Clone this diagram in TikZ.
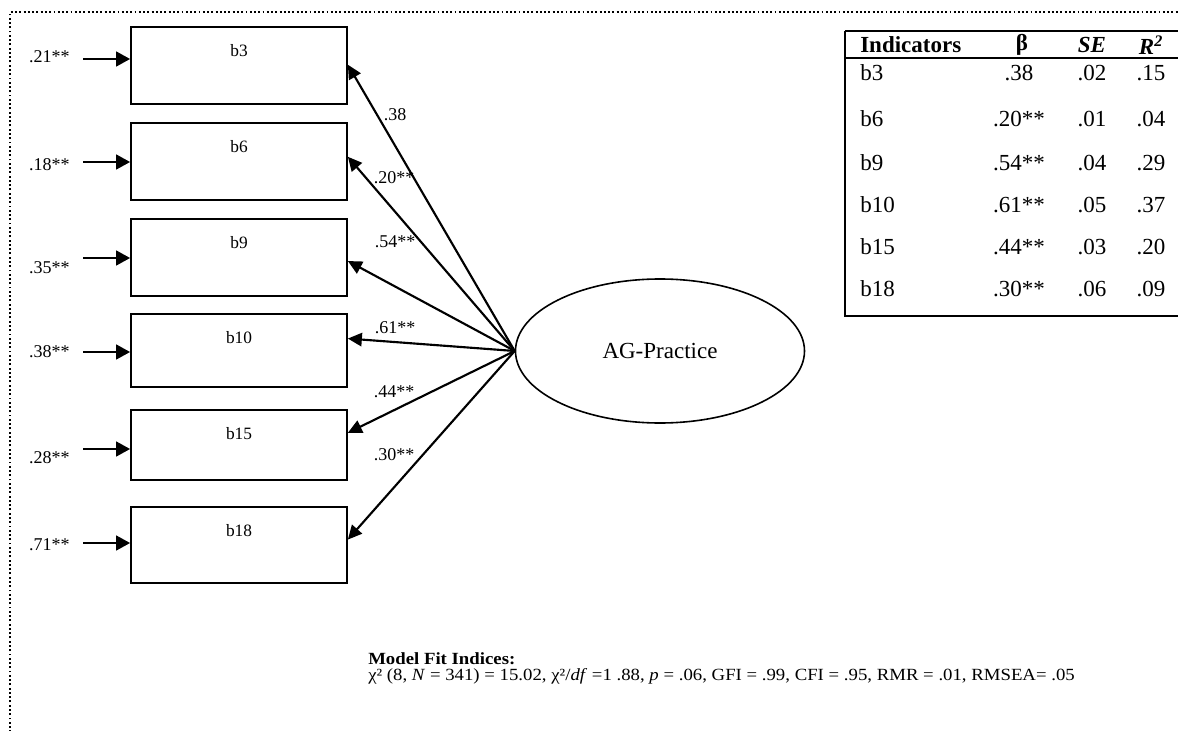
\documentclass[tikz,border=0pt]{standalone}
\usepackage{fontspec}
\setmainfont{Liberation Serif}
\newfontfamily\fitfont[FakeStretch=1.1]{Liberation Serif}
\usetikzlibrary{arrows.meta,shapes.geometric,calc}

\tikzset{
  obs/.style={draw, line width=1.3pt, minimum width=216*0.75pt, inner sep=0pt, minimum height=#1*0.75pt},
  obslab/.style={font=\fontsize{13}{15}\selectfont, inner sep=0pt},
  errlab/.style={font=\fontsize{13.5}{15}\selectfont, anchor=east, inner sep=0pt},
  coef/.style={font=\fontsize{13.5}{15}\selectfont, inner sep=0pt},
  errarrow/.style={line width=1.8pt, -{Triangle[length=10.5pt,width=11pt]}},
  load/.style={line width=1.6pt, -{Triangle[length=10.5pt,width=10pt]}},
  tabtxt/.style={font=\fontsize{17.25}{20}\selectfont, inner sep=0pt},
  rule/.style={line width=1.6pt},
  framedots/.style={line width=1.2pt, dash pattern=on 1.4pt off 1.8pt},
  fit/.style={font=\fitfont\fontsize{12.8}{14}\selectfont, anchor=west, inner sep=0pt},
}

\begin{document}
\begin{tikzpicture}[x=0.75pt,y=-0.75pt]
\useasboundingbox (0,0) rectangle (1178,731);
\clip (0,0) rectangle (1178,731);

% dotted outer frame
\draw[framedots] (10,745) -- (10,12) -- (1190,12);

% observed indicators
\node[obs=77] (b3)  at (239,65.5)  {};
\node[obs=77] (b6)  at (239,161.5) {};
\node[obs=77] (b9)  at (239,257.5) {};
\node[obs=73] (b10) at (239,350.5) {};
\node[obs=70] (b15) at (239,445)   {};
\node[obs=76] (b18) at (239,545)   {};
\foreach \b in {b3,b6,b9,b10,b15,b18}
  \node[obslab] (\b lab) at ($(\b.north)+(0,24)$) {\b};

% error terms
\node[errlab] (e3)  at (70,57)  {.21**};
\node[errlab] (e6)  at (70,165) {.18**};
\node[errlab] (e9)  at (70,268) {.35**};
\node[errlab] (e10) at (70,352) {.38**};
\node[errlab] (e15) at (70,458) {.28**};
\node[errlab] (e18) at (70,545) {.71**};
\coordinate (s3)  at (83,59);
\coordinate (s6)  at (83,162);
\coordinate (s9)  at (83,258);
\coordinate (s10) at (83,352);
\coordinate (s15) at (83,449);
\coordinate (s18) at (83,543);
\foreach \b in {3,6,9,10,15,18}
  \draw[errarrow] (s\b) -- (s\b -| b\b.west);

% latent factor
\node[draw, ellipse, line width=1.2pt, minimum width=289*0.75pt, minimum height=144*0.75pt,
      inner sep=0pt, font=\fontsize{17.25}{20}\selectfont] (lv) at (660,351) {AG-Practice};

% loadings
\draw[load] (lv.west) -- ($(b3.north east)!0.49!(b3.south east)$);
\draw[load] (lv.west) -- ($(b6.north east)!0.44!(b6.south east)$);
\draw[load] (lv.west) -- ($(b9.north east)!0.545!(b9.south east)$);
\draw[load] (lv.west) -- ($(b10.north east)!0.34!(b10.south east)$);
\draw[load] (lv.west) -- ($(b15.north east)!0.33!(b15.south east)$);
\draw[load] (lv.west) -- ($(b18.north east)!0.43!(b18.south east)$);
\node[coef] (l3)  at (395,115) {.38};
\node[coef] (l6)  at (394,178) {.20**};
\node[coef] (l9)  at (395,242) {.54**};
\node[coef] (l10) at (395,328) {.61**};
\node[coef] (l15) at (394,392) {.44**};
\node[coef] (l18) at (394,455) {.30**};

% estimates table
\draw[line width=2pt] (845,31) -- (1190,31);
\draw[rule] (845,58) -- (1190,58);
\draw[rule] (845,31) -- (845,316) -- (1190,316);
\node[tabtxt, anchor=west] (th1) at (860,45) {\textbf{Indicators}};
\node[tabtxt] (th2) at (1022,45) {\textbf{β}};
\node[tabtxt] (th3) at (1092,45) {\textbf{\textit{SE}}};
\node[tabtxt] (th4) at (1151,45) {\textbf{\textit{R}}\textsuperscript{\textbf{\textit{2}}}};
\foreach \r/\y/\be/\se/\rr in {b3/73/.38/.02/.15, b6/119/.20**/.01/.04, b9/163/.54**/.04/.29,
                               b10/205/.61**/.05/.37, b15/247/.44**/.03/.20, b18/289/.30**/.06/.09}{
  \node[tabtxt, anchor=west] (t\r a) at (860,\y) {\r};
  \node[tabtxt] (t\r b) at (1019,\y) {\be};
  \node[tabtxt] (t\r c) at (1092,\y) {\se};
  \node[tabtxt] (t\r d) at (1151,\y) {\rr};
}

% fit statistics
\node[fit] (fit1) at (368,659) {\textbf{Model Fit Indices:}};
\node[fit] (fit2) at (368,676) {χ² (8, \textit{N} = 341) = 15.02, χ²/\textit{df} =1 .88, \textit{p} = .06, GFI = .99, CFI = .95, RMR = .01, RMSEA= .05};
\end{tikzpicture}
\end{document}
